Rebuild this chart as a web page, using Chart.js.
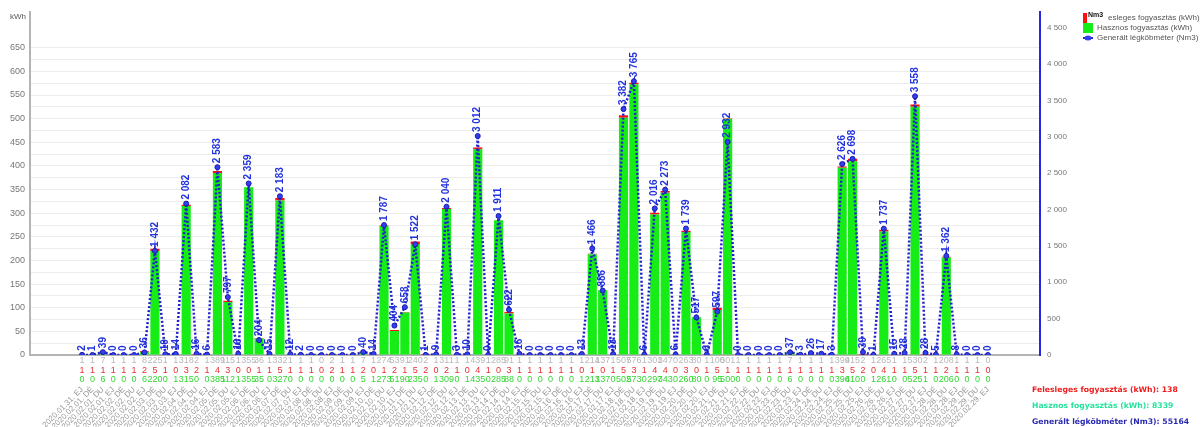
<!DOCTYPE html>
<html>
<head>
<meta charset="utf-8">
<script src="https://cdn.jsdelivr.net/npm/chart.js@4/dist/chart.umd.min.js"></script>
<style>
  html, body { margin: 0; padding: 0; background: #fff; overflow: hidden; }
  #wrap { width: 1201px; height: 427px; position: relative; }
</style>
</head>
<body>
<div id="wrap"><canvas id="myChart" width="1201" height="427"></canvas></div>
<script>
// periods: one evening, then morning / afternoon / evening for every day of February
const categories = ['2020.01.31. EJ'];
for (let d = 1; d <= 29; d++) {
  const dd = String(d).padStart(2, '0');
  ['DÉ', 'DU', 'EJ'].forEach(p => categories.push(`2020.02.${dd}. ${p}`));
}

// kWh used
const hasznos = [
  0, 0, 6, 0, 0, 0, 6, 220, 0, 1, 315, 0, 0, 385, 112, 1, 355, 35, 0, 327, 0, 0,
  0, 0, 0, 0, 0, 5, 1, 273, 51, 90, 235, 0, 1, 309, 0, 1, 435, 0, 285, 88, 0, 0,
  0, 0, 0, 0, 1, 213, 137, 0, 502, 573, 0, 297, 343, 0, 260, 80, 0, 95, 500, 0, 0, 0,
  0, 0, 6, 0, 0, 0, 0, 396, 410, 0, 1, 261, 0, 0, 525, 1, 0, 206, 0, 0, 0, 0
];
// kWh wasted
const felesleges = [
  1, 1, 1, 1, 1, 1, 2, 5, 1, 0, 3, 2, 1, 4, 3, 0, 0, 1, 1, 5, 1, 1,
  1, 0, 2, 1, 1, 2, 0, 1, 2, 1, 5, 2, 0, 2, 1, 0, 4, 1, 0, 3, 1, 1,
  1, 1, 1, 1, 0, 1, 0, 1, 5, 3, 1, 4, 4, 0, 3, 0, 1, 5, 1, 1, 1, 1,
  1, 1, 1, 1, 1, 1, 1, 3, 5, 2, 0, 4, 1, 1, 5, 1, 1, 2, 1, 1, 1, 0
];
// generated Nm3
const legkobmeter = [
  2, 1, 39, 0, 0, 0, 36, 1432, 10, 14, 2082, 16, 6, 2583, 797, 16, 2359, 204, 15, 2183, 12, 2,
  0, 0, 0, 0, 0, 40, 14, 1787, 404, 658, 1522, 1, 9, 2040, 3, 10, 3012, 0, 1911, 622, 16, 0,
  0, 0, 0, 0, 13, 1466, 886, 13, 3382, 3765, 6, 2016, 2273, 6, 1739, 517, 6, 597, 2932, 0, 0, 0,
  0, 0, 37, 3, 26, 17, 3, 2626, 2698, 39, 1, 1737, 15, 28, 3558, 28, 5, 1362, 8, 0, 0, 0
];

// axis ticks
const kwhTicks = [0, 50, 100, 150, 200, 250, 300, 350, 400, 450, 500, 550, 600, 650];
const nm3Ticks = [0, 500, 1000, 1500, 2000, 2500, 3000, 3500, 4000, 4500];

const summary = [
  ['Felesleges fogyasztás (kWh): 138', '#ee1c1c'],
  ['Hasznos fogyasztás (kWh): 8339', '#26e39c'],
  ['Generált légköbméter (Nm3): 55164', '#2a2ab4']
];

// empty slots on both ends of the category axis
const PAD = 5;
const blank = new Array(PAD).fill('');
const nulls = new Array(PAD).fill(null);
const padded = arr => [...nulls, ...arr, ...nulls];

const fmt = v => String(v).replace(/\B(?=(\d{3})+(?!\d))/g, ' ');
const FONT = '"Liberation Sans", Arial, sans-serif';

const extras = {
  id: 'extras',
  afterDatasetsDraw(chart) {
    const ctx = chart.ctx;
    const meta = chart.getDatasetMeta(2);
    ctx.save();
    ctx.font = 'bold 10px ' + FONT;
    ctx.fillStyle = '#2233dd';
    ctx.textAlign = 'left';
    ctx.textBaseline = 'middle';
    meta.data.forEach((pt, i) => {
      const v = chart.data.datasets[2].data[i];
      if (v === null) return;
      ctx.save();
      ctx.translate(pt.x, pt.y - 4);
      ctx.rotate(-Math.PI / 2);
      ctx.fillText(fmt(v), 0, 0);
      ctx.restore();
    });
    ctx.restore();
  },
  afterDraw(chart) {
    const ctx = chart.ctx;
    const x = chart.scales.x;
    const area = chart.chartArea;
    ctx.save();

    // value rows under the axis: total, wasted, used
    ctx.font = '9px ' + FONT;
    ctx.textAlign = 'center';
    ctx.textBaseline = 'middle';
    const rows = [
      [felesleges.map((f, i) => f + hasznos[i]), '#b8b8b8', 361],
      [felesleges, '#e83030', 371],
      [hasznos, '#33d633', 380]
    ];
    rows.forEach(([vals, color, y]) => {
      ctx.fillStyle = color;
      vals.forEach((v, i) => ctx.fillText(v, x.getPixelForValue(PAD + i), y));
    });

    // axis unit on the left
    ctx.font = '8px ' + FONT;
    ctx.fillStyle = '#555';
    ctx.textAlign = 'left';
    ctx.fillText('kWh', 10, 17);

    // legend
    const lx = 1083;
    const ds = chart.data.datasets;
    const items = [ds[1], ds[0], ds[2]];
    ctx.font = '8px ' + FONT;
    items.forEach((d, i) => {
      const y = 18 + i * 10;
      if (d.type === 'line') {
        ctx.strokeStyle = d.borderColor;
        ctx.lineWidth = 2;
        ctx.beginPath();
        ctx.moveTo(lx, y);
        ctx.lineTo(lx + 10, y);
        ctx.stroke();
        ctx.fillStyle = d.pointBackgroundColor;
        ctx.beginPath();
        ctx.ellipse(lx + 5, y, 3.5, 2.5, 0, 0, Math.PI * 2);
        ctx.fill();
      } else {
        ctx.fillStyle = d.backgroundColor;
        ctx.fillRect(lx, y - 5, 10, 10);
      }
      ctx.fillStyle = '#555';
      ctx.fillText(d.label, lx + 14, y);
    });

    // right axis unit, sitting over the first legend row
    ctx.fillStyle = '#fff';
    ctx.fillRect(area.right + 47, 10, 21, 13);
    ctx.fillStyle = '#111';
    ctx.font = 'bold 7px ' + FONT;
    ctx.fillText('Nm3', area.right + 48, 15);

    // totals
    ctx.font = 'bold 7.7px "DejaVu Sans", Verdana, sans-serif';
    summary.forEach(([text, color], i) => {
      ctx.fillStyle = color;
      ctx.fillText(text, 1032, 390 + i * 16);
    });
    ctx.restore();
  }
};

const ctx = document.getElementById('myChart').getContext('2d');
const myChart = new Chart(ctx, {
  type: 'bar',
  data: {
    labels: [...blank, ...categories, ...blank],
    datasets: [
      {
        label: 'Hasznos fogyasztás (kWh)',
        data: padded(hasznos),
        backgroundColor: '#16ec16',
        yAxisID: 'y',
        order: 1,
        barPercentage: 0.88,
        categoryPercentage: 1
      },
      {
        label: 'Felesleges fogyasztás (kWh)',
        data: padded(felesleges),
        backgroundColor: '#ff1010',
        yAxisID: 'y',
        order: 1,
        barPercentage: 0.88,
        categoryPercentage: 1
      },
      {
        type: 'line',
        label: 'Generált légköbméter (Nm3)',
        data: padded(legkobmeter),
        yAxisID: 'y1',
        order: 0,
        borderColor: '#2020d0',
        borderWidth: 2.5,
        borderDash: [2, 2],
        pointRadius: 2.5,
        pointBackgroundColor: '#3040f0',
        pointBorderColor: '#1a1aa8',
        pointBorderWidth: 1,
        tension: 0,
        spanGaps: false
      }
    ]
  },
  options: {
    responsive: false,
    animation: false,
    devicePixelRatio: 1,
    layout: { padding: { top: 11, left: 0, right: 0, bottom: 0 } },
    plugins: {
      legend: { display: false },
      tooltip: { enabled: false },
      title: { display: false }
    },
    scales: {
      x: {
        stacked: true,
        offset: false,
        grid: { display: true, color: 'transparent', drawTicks: false },
        border: { display: true, color: '#b4b4b4', width: 2 },
        ticks: {
          autoSkip: false,
          maxRotation: 45,
          minRotation: 45,
          padding: 30,
          color: '#999',
          font: { family: FONT, size: 8 }
        },
        afterFit: scale => { scale.height = 72; }
      },
      y: {
        stacked: true,
        position: 'left',
        min: 0,
        max: 726,
        grid: {
          drawTicks: false,
          color: c => (c.tick && c.tick.value > 0 && c.tick.value <= 650) ? '#ececec' : 'transparent'
        },
        border: { display: true, color: '#b4b4b4', width: 2 },
        ticks: {
          autoSkip: false,
          padding: 5,
          color: '#777',
          font: { family: FONT, size: 9 },
          callback: v => kwhTicks.includes(v) ? v : ''
        },
        // gridlines every 25 kWh, labels every 50
        afterBuildTicks: scale => {
          const t = [];
          for (let v = 0; v <= 650; v += 25) t.push({ value: v });
          scale.ticks = t;
        },
        afterFit: scale => { scale.width = 30; }
      },
      y1: {
        position: 'right',
        min: 0,
        max: 4720,
        grid: { display: false, drawTicks: false },
        border: { display: true, color: '#2626e0', width: 2 },
        ticks: {
          autoSkip: false,
          padding: 7,
          color: '#777',
          font: { family: FONT, size: 8 },
          callback: v => fmt(v)
        },
        afterBuildTicks: scale => { scale.ticks = nm3Ticks.map(v => ({ value: v })); },
        afterFit: scale => { scale.width = 161; }
      }
    }
  },
  plugins: [extras]
});
</script>
</body>
</html>
